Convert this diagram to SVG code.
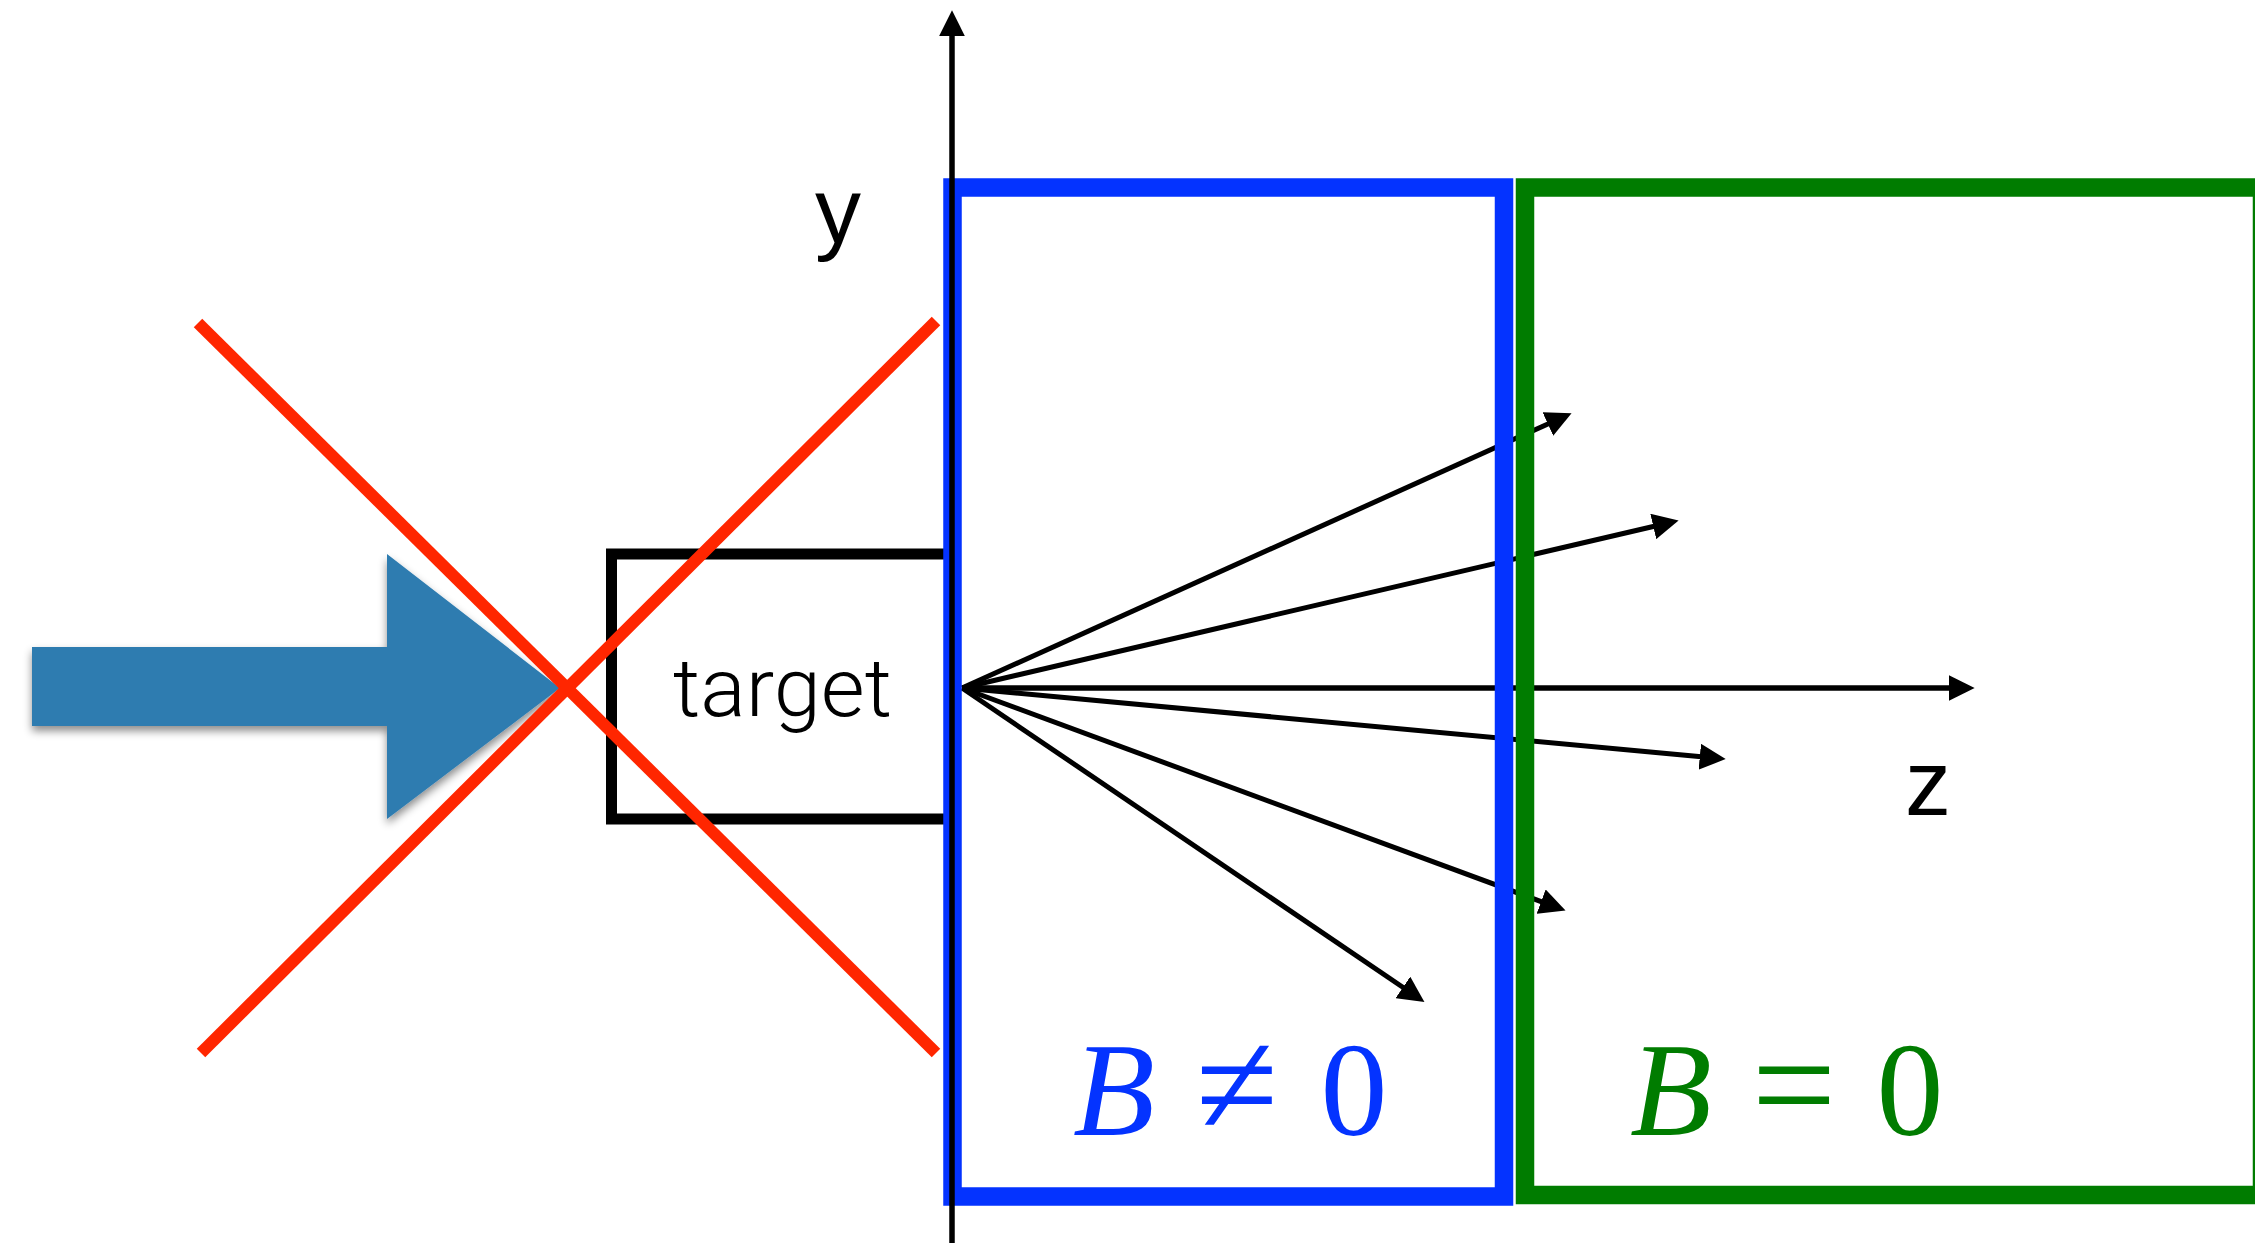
<svg xmlns="http://www.w3.org/2000/svg" width="2255" height="1243" viewBox="0 0 2255 1243">
<style>
.ray{stroke:#000;stroke-width:5;fill:none;marker-end:url(#ah)}
.axis{stroke:#000;stroke-width:5.5;fill:none;marker-end:url(#ah)}
.red{stroke:#FF2600;stroke-width:12;stroke-linecap:butt}
.lbl{font-family:"Liberation Sans",Arial,sans-serif;font-size:92px;fill:#000}
.math{font-family:"Liberation Serif","Times New Roman",serif;font-size:134px}
</style>
<defs>
<marker id="ah" markerUnits="userSpaceOnUse" markerWidth="26" markerHeight="26" refX="4" refY="12" orient="auto" viewBox="0 0 24 24">
<path d="M0,0 L24,12 L0,24 Z" fill="#000"/>
</marker>
<filter id="shadow" x="-10%" y="-10%" width="130%" height="140%">
<feDropShadow dx="0" dy="5" stdDeviation="4" flood-color="#000" flood-opacity="0.45"/>
</filter>
</defs>
<rect width="2255" height="1243" fill="#fff"/>

<g id="beam">
<path d="M32,647 L387,647 L387,554 L560,688 L387,819 L387,726 L32,726 Z" fill="#2e7cb0" filter="url(#shadow)"/>
</g>

<g id="target">
<rect x="611.5" y="554" width="341" height="265" fill="#fff" stroke="#000" stroke-width="11"/>
<text x="673" y="716" font-family="Roboto,'Liberation Sans',sans-serif" font-weight="300" font-size="82" textLength="219" lengthAdjust="spacingAndGlyphs">target</text>
</g>

<g id="cross">
<line class="red" x1="198" y1="323" x2="936" y2="1053"/>
<line class="red" x1="201" y1="1053" x2="936" y2="321"/>
</g>

<g id="connectors">
<line class="ray" x1="962" y1="688" x2="1551.8" y2="422.2"/>
<line class="ray" x1="962" y1="688" x2="1657.5" y2="525.5"/>
<line class="axis" x1="962" y1="688" x2="1953" y2="688"/>
<line class="ray" x1="962" y1="688" x2="1704.1" y2="757.1"/>
<line class="ray" x1="962" y1="688" x2="1545.2" y2="903.1"/>
<line class="ray" x1="962" y1="688" x2="1406.5" y2="989.8"/>
</g>

<g id="region-B-nonzero">
<rect x="952.5" y="187.5" width="551.5" height="1009" fill="none" stroke="#0433FF" stroke-width="18.5"/>
<text class="math" y="1135" fill="#0433FF"><tspan x="1073" font-style="italic">B</tspan><tspan x="1237" text-anchor="middle" font-size="150">≠</tspan><tspan x="1354" text-anchor="middle">0</tspan></text>
</g>

<g id="region-B-zero">
<rect x="1525" y="187.5" width="737" height="1007.5" fill="none" stroke="#007C00" stroke-width="18.5"/>
<text class="math" y="1135" fill="#007C00"><tspan x="1630" font-style="italic">B</tspan><tspan x="1794" text-anchor="middle" font-size="150">=</tspan><tspan x="1910" text-anchor="middle">0</tspan></text>
</g>

<g id="y-axis">
<line class="axis" x1="952" y1="1243" x2="952" y2="32"/>
<text class="lbl" x="815" y="243">y</text>
</g>

<g id="z-label">
<text class="lbl" x="1905" y="815">z</text>
</g>
</svg>
